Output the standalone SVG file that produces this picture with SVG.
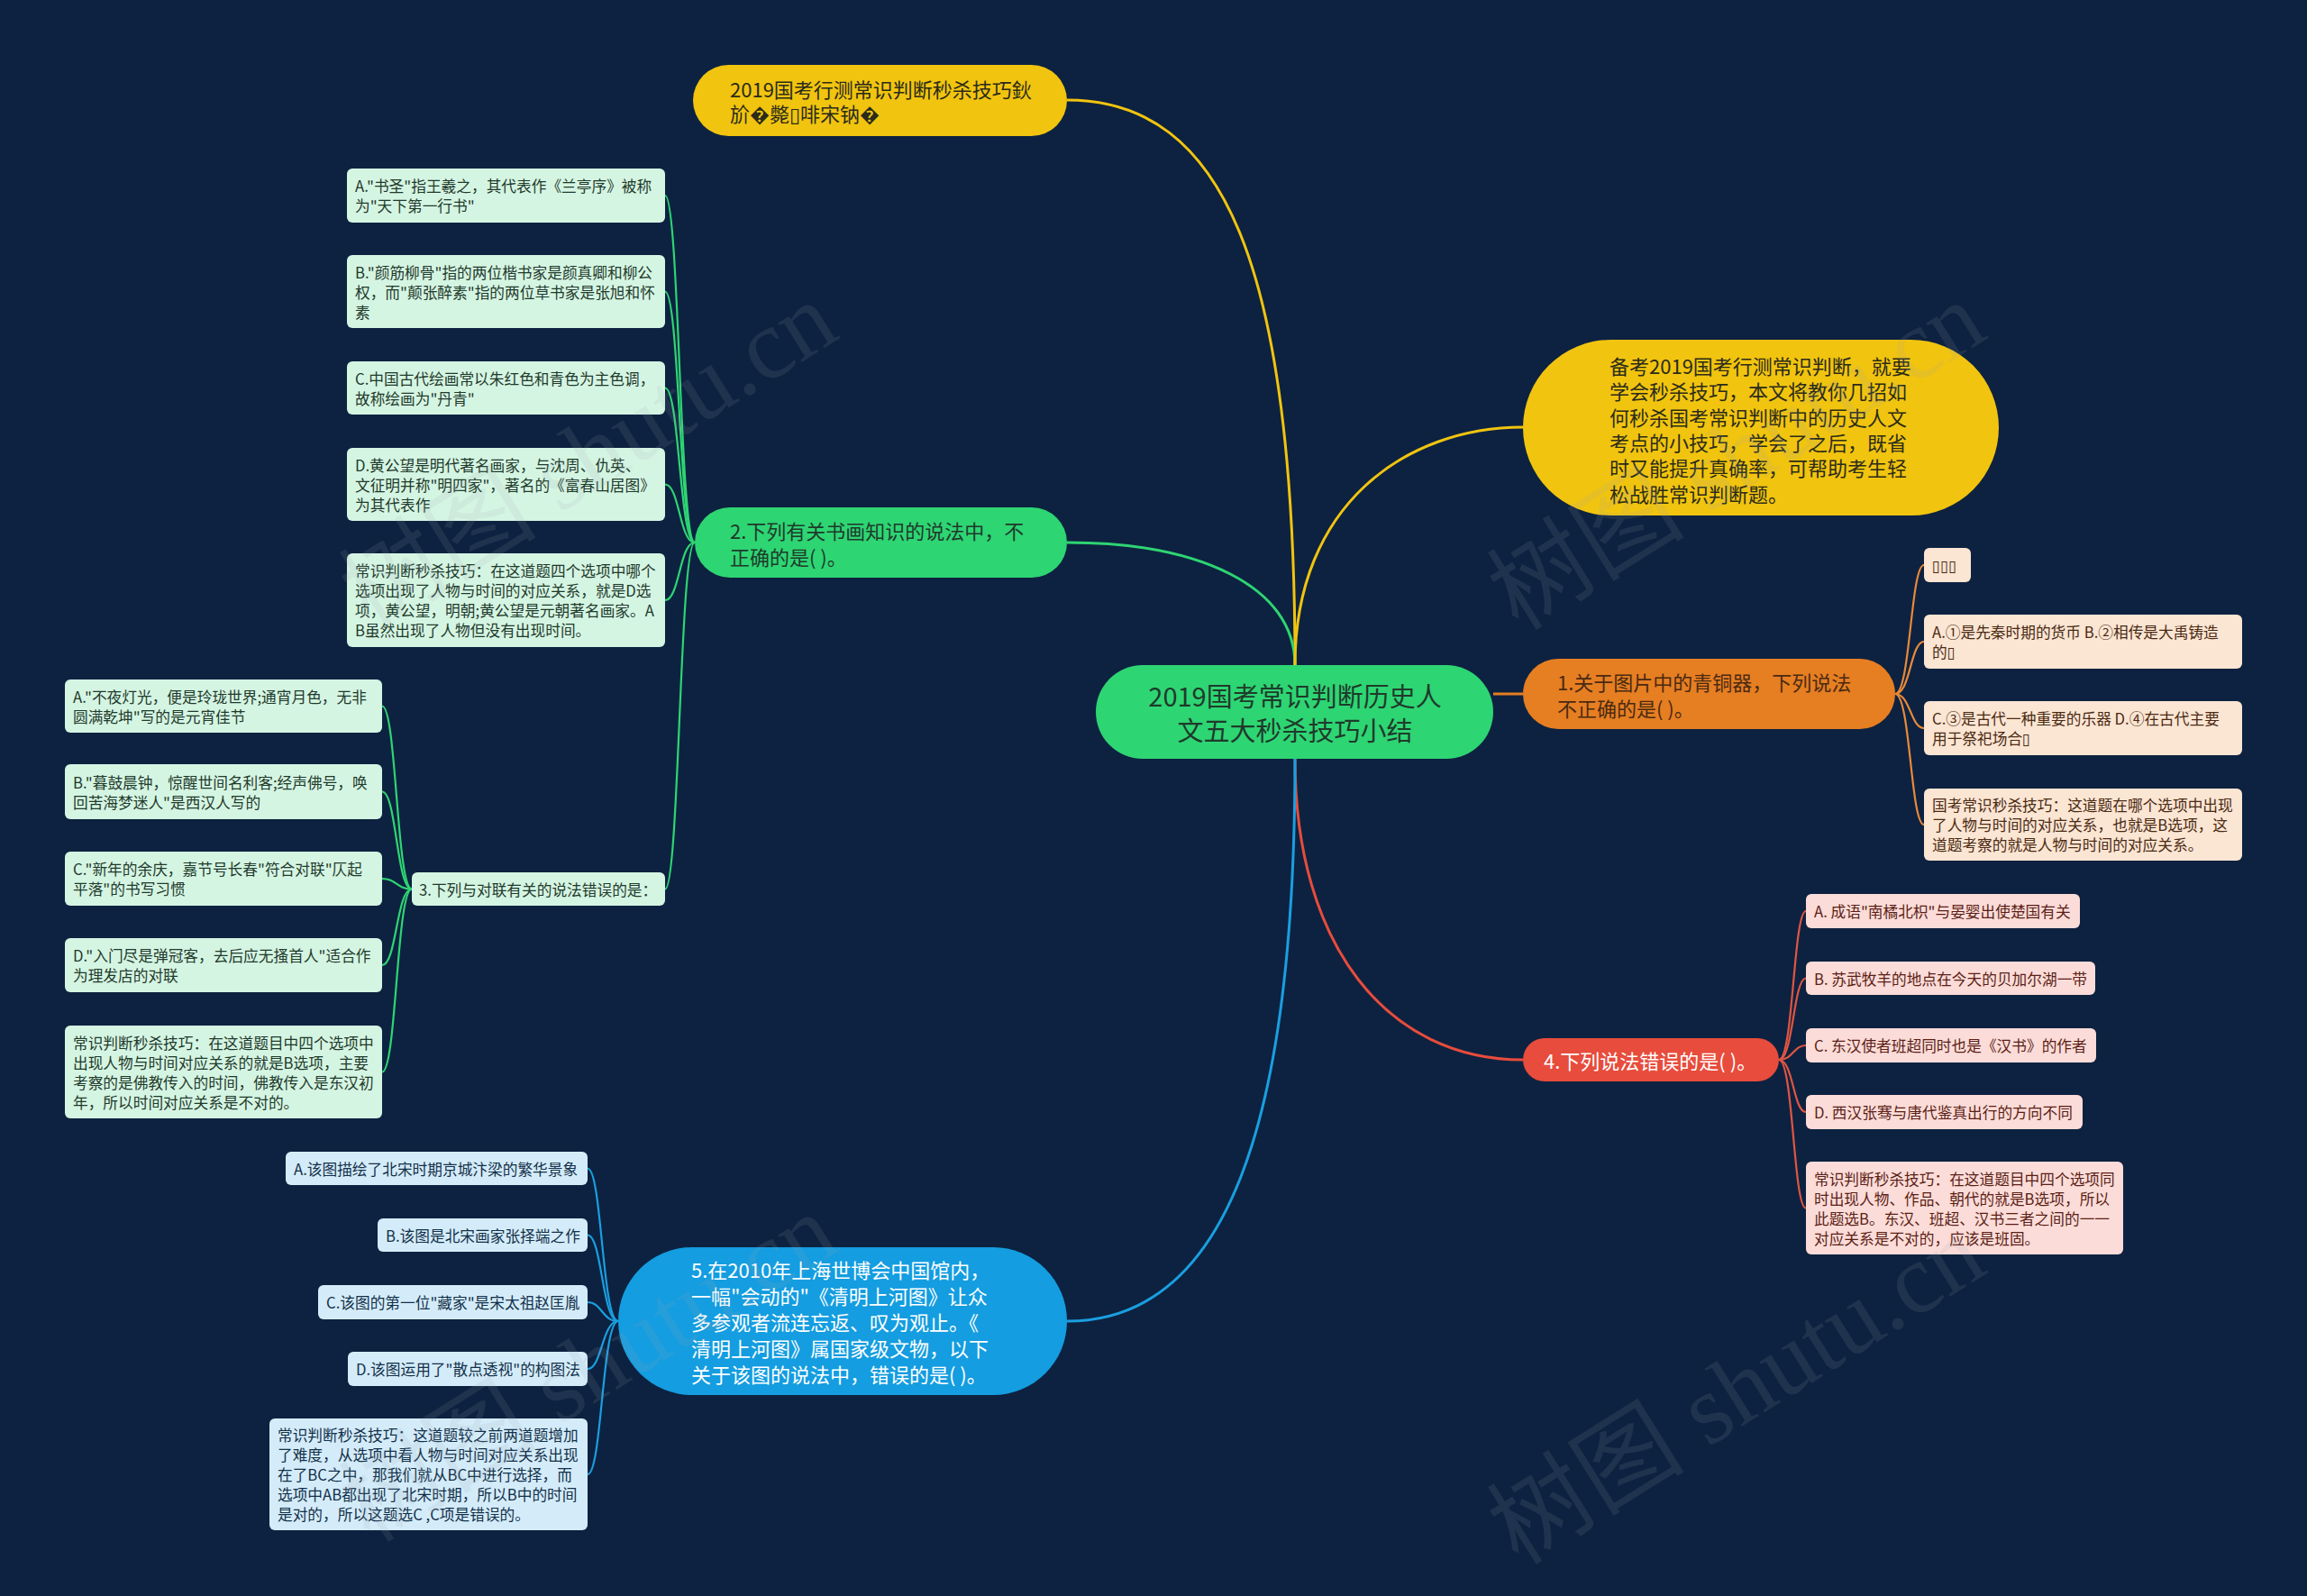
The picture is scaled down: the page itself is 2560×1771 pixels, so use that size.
<svg xmlns="http://www.w3.org/2000/svg" width="2560" height="1771" viewBox="0 0 2560 1771">
<style>
text{font-family:"Noto Sans CJK SC","Noto Sans","DejaVu Sans",sans-serif;dominant-baseline:central}
.main{font-size:22px}
.ch{font-size:16.7px}
.conn path{fill:none}
.cy{stroke:#f1c40f;stroke-width:3}
.cg{stroke:#2ed573;stroke-width:3}
.co{stroke:#e67e22;stroke-width:3}
.cr{stroke:#e74c3c;stroke-width:3}
.cb{stroke:#1a9fe0;stroke-width:3}
.sg{stroke:#2ed573;stroke-width:2.2}
.so{stroke:#e8893a;stroke-width:2.2}
.sr{stroke:#e05543;stroke-width:2.2}
.sb{stroke:#1a9fe0;stroke-width:2.2}
.fy{fill:#f1c40f}.fg{fill:#2ed573}.fo{fill:#e67e22}.fr{fill:#e74c3c}.fb{fill:#149de0}
.bg{fill:#d5f5e3}.bo{fill:#fbe5d3}.br{fill:#fbdcd8}.bb{fill:#d4ecf9}
.tg{fill:#1f3a2b}.to{fill:#4a2a12}.tr{fill:#5b1e16}.tb{fill:#13304a}.td{fill:#2b2b1a}.tw{fill:#ffffff}
.wm{font-family:"Liberation Serif","Noto Sans CJK SC",serif;font-size:110px;fill:#9aa5b0;opacity:0.13}
</style>
<rect x="0" y="0" width="2560" height="1771" fill="#0d2240"/>

<g id="connectors" class="conn">
<path class="cy" d="M1437 738 C1437 300 1360 111 1184 111"/>
<path class="cg" d="M1437 738 C1437 650 1330 602 1184 602"/>
<path class="cy" d="M1437 738 C1437 560 1560 474 1690 474"/>
<path class="co" d="M1657 770 L1690 770"/>
<path class="cr" d="M1437 842 C1437 1050 1540 1176 1690 1176"/>
<path class="cb" d="M1437 842 C1437 1250 1360 1466 1184 1466"/>

<path class="sg" d="M771 602 C754 602 754 217 738 217"/>
<path class="sg" d="M771 602 C754 602 754 323.5 738 323.5"/>
<path class="sg" d="M771 602 C754 602 754 430.5 738 430.5"/>
<path class="sg" d="M771 602 C754 602 754 537.5 738 537.5"/>
<path class="sg" d="M771 602 C754 602 754 666 738 666"/>
<path class="sg" d="M771 602 C754 602 754 986.5 738 986.5"/>

<path class="sg" d="M457 986.5 C440 986.5 440 783.5 424 783.5"/>
<path class="sg" d="M457 986.5 C440 986.5 440 878.5 424 878.5"/>
<path class="sg" d="M457 986.5 C440 986.5 440 975 424 975"/>
<path class="sg" d="M457 986.5 C440 986.5 440 1071 424 1071"/>
<path class="sg" d="M457 986.5 C440 986.5 440 1189.5 424 1189.5"/>

<path class="sb" d="M686 1466 C668 1466 668 1296.5 652 1296.5"/>
<path class="sb" d="M686 1466 C668 1466 668 1370.5 652 1370.5"/>
<path class="sb" d="M686 1466 C668 1466 668 1445 652 1445"/>
<path class="sb" d="M686 1466 C668 1466 668 1519 652 1519"/>
<path class="sb" d="M686 1466 C668 1466 668 1636 652 1636"/>

<path class="so" d="M2103 770 C2120 770 2120 627 2135 627"/>
<path class="so" d="M2103 770 C2120 770 2120 712 2135 712"/>
<path class="so" d="M2103 770 C2120 770 2120 808 2135 808"/>
<path class="so" d="M2103 770 C2120 770 2120 915 2135 915"/>

<path class="sr" d="M1974 1176 C1990 1176 1990 1011 2004 1011"/>
<path class="sr" d="M1974 1176 C1990 1176 1990 1085.5 2004 1085.5"/>
<path class="sr" d="M1974 1176 C1990 1176 1990 1160 2004 1160"/>
<path class="sr" d="M1974 1176 C1990 1176 1990 1234 2004 1234"/>
<path class="sr" d="M1974 1176 C1990 1176 1990 1340.5 2004 1340.5"/>
</g>

<g id="center">
<rect class="fg" x="1216" y="738" width="441" height="104" rx="52"/>
<text class="tg" font-size="29" text-anchor="middle"><tspan x="1437" y="771">2019国考常识判断历史人</tspan><tspan x="1437" y="809">文五大秒杀技巧小结</tspan></text>
</g>

<g id="top-title">
<rect class="fy" x="769" y="72" width="415" height="79" rx="39.5"/>
<text class="main td"><tspan x="810" y="98">2019国考行测常识判断秒杀技巧鈥</tspan><tspan x="810" y="125">斺�斃▯啡宋钠�</tspan></text>
</g>

<g id="intro">
<rect class="fy" x="1690" y="377" width="528" height="195" rx="97.5"/>
<text class="main td"><tspan x="1786" y="405">备考2019国考行测常识判断，就要</tspan><tspan x="1786" y="433">学会秒杀技巧，本文将教你几招如</tspan><tspan x="1786" y="462">何秒杀国考常识判断中的历史人文</tspan><tspan x="1786" y="490">考点的小技巧，学会了之后，既省</tspan><tspan x="1786" y="518">时又能提升真确率，可帮助考生轻</tspan><tspan x="1786" y="547">松战胜常识判断题。</tspan></text>
</g>

<g id="q1">
<rect class="fo" x="1690" y="731" width="413" height="78" rx="39"/>
<text class="main to"><tspan x="1728" y="756">1.关于图片中的青铜器，下列说法</tspan><tspan x="1728" y="785">不正确的是( )。</tspan></text>
</g>
<g id="q1-img">
<rect class="bo" x="2135" y="608" width="52" height="38" rx="6"/>
<text class="ch to" x="2144" y="627">▯▯▯</text>
</g>
<g id="q1-ab">
<rect class="bo" x="2135" y="682" width="353" height="60" rx="6"/>
<text class="ch to"><tspan x="2144" y="701">A.①是先秦时期的货币 B.②相传是大禹铸造</tspan><tspan x="2144" y="723">的▯</tspan></text>
</g>
<g id="q1-cd">
<rect class="bo" x="2135" y="778" width="353" height="60" rx="6"/>
<text class="ch to"><tspan x="2144" y="797">C.③是古代一种重要的乐器 D.④在古代主要</tspan><tspan x="2144" y="819">用于祭祀场合▯</tspan></text>
</g>
<g id="q1-tip">
<rect class="bo" x="2135" y="875" width="353" height="80" rx="6"/>
<text class="ch to"><tspan x="2144" y="893">国考常识秒杀技巧：这道题在哪个选项中出现</tspan><tspan x="2144" y="915">了人物与时间的对应关系，也就是B选项，这</tspan><tspan x="2144" y="937">道题考察的就是人物与时间的对应关系。</tspan></text>
</g>

<g id="q4">
<rect class="fr" x="1690" y="1152" width="284" height="48" rx="24"/>
<text class="main tw" x="1713" y="1176">4.下列说法错误的是( )。</text>
</g>
<g id="q4-a">
<rect class="br" x="2004" y="992" width="304" height="38" rx="6"/>
<text class="ch tr" x="2013" y="1011">A. 成语"南橘北枳"与晏婴出使楚国有关</text>
</g>
<g id="q4-b">
<rect class="br" x="2004" y="1067" width="321" height="37" rx="6"/>
<text class="ch tr" x="2013" y="1085.5">B. 苏武牧羊的地点在今天的贝加尔湖一带</text>
</g>
<g id="q4-c">
<rect class="br" x="2004" y="1141" width="322" height="38" rx="6"/>
<text class="ch tr" x="2013" y="1160">C. 东汉使者班超同时也是《汉书》的作者</text>
</g>
<g id="q4-d">
<rect class="br" x="2004" y="1215" width="307" height="38" rx="6"/>
<text class="ch tr" x="2013" y="1234">D. 西汉张骞与唐代鉴真出行的方向不同</text>
</g>
<g id="q4-tip">
<rect class="br" x="2004" y="1289" width="352" height="103" rx="6"/>
<text class="ch tr"><tspan x="2013" y="1307.5">常识判断秒杀技巧：在这道题目中四个选项同</tspan><tspan x="2013" y="1329.5">时出现人物、作品、朝代的就是B选项，所以</tspan><tspan x="2013" y="1351.5">此题选B。东汉、班超、汉书三者之间的一一</tspan><tspan x="2013" y="1373.5">对应关系是不对的，应该是班固。</tspan></text>
</g>

<g id="q2">
<rect class="fg" x="771" y="563" width="413" height="78" rx="39"/>
<text class="main tg"><tspan x="810" y="588">2.下列有关书画知识的说法中，不</tspan><tspan x="810" y="617">正确的是( )。</tspan></text>
</g>
<g id="q2-a">
<rect class="bg" x="385" y="187" width="353" height="60" rx="6"/>
<text class="ch tg"><tspan x="394" y="206">A."书圣"指王羲之，其代表作《兰亭序》被称</tspan><tspan x="394" y="228">为"天下第一行书"</tspan></text>
</g>
<g id="q2-b">
<rect class="bg" x="385" y="283" width="353" height="81" rx="6"/>
<text class="ch tg"><tspan x="394" y="301.5">B."颜筋柳骨"指的两位楷书家是颜真卿和柳公</tspan><tspan x="394" y="323.5">权，而"颠张醉素"指的两位草书家是张旭和怀</tspan><tspan x="394" y="345.5">素</tspan></text>
</g>
<g id="q2-c">
<rect class="bg" x="385" y="401" width="353" height="59" rx="6"/>
<text class="ch tg"><tspan x="394" y="419.5">C.中国古代绘画常以朱红色和青色为主色调，</tspan><tspan x="394" y="441.5">故称绘画为"丹青"</tspan></text>
</g>
<g id="q2-d">
<rect class="bg" x="385" y="497" width="353" height="81" rx="6"/>
<text class="ch tg"><tspan x="394" y="515.5">D.黄公望是明代著名画家，与沈周、仇英、</tspan><tspan x="394" y="537.5">文征明并称"明四家"，著名的《富春山居图》</tspan><tspan x="394" y="559.5">为其代表作</tspan></text>
</g>
<g id="q2-tip">
<rect class="bg" x="385" y="614" width="353" height="104" rx="6"/>
<text class="ch tg"><tspan x="394" y="633">常识判断秒杀技巧：在这道题四个选项中哪个</tspan><tspan x="394" y="655">选项出现了人物与时间的对应关系，就是D选</tspan><tspan x="394" y="677">项，黄公望，明朝;黄公望是元朝著名画家。A</tspan><tspan x="394" y="699">B虽然出现了人物但没有出现时间。</tspan></text>
</g>

<g id="q3">
<rect class="bg" x="457" y="968" width="281" height="37" rx="6"/>
<text class="ch tg" x="465" y="986.5">3.下列与对联有关的说法错误的是：</text>
</g>
<g id="q3-a">
<rect class="bg" x="72" y="754" width="352" height="59" rx="6"/>
<text class="ch tg"><tspan x="81" y="772.5">A."不夜灯光，便是玲珑世界;通宵月色，无非</tspan><tspan x="81" y="794.5">圆满乾坤"写的是元宵佳节</tspan></text>
</g>
<g id="q3-b">
<rect class="bg" x="72" y="848" width="352" height="61" rx="6"/>
<text class="ch tg"><tspan x="81" y="867.5">B."暮鼓晨钟，惊醒世间名利客;经声佛号，唤</tspan><tspan x="81" y="889.5">回苦海梦迷人"是西汉人写的</tspan></text>
</g>
<g id="q3-c">
<rect class="bg" x="72" y="945" width="352" height="60" rx="6"/>
<text class="ch tg"><tspan x="81" y="964">C."新年的余庆，嘉节号长春"符合对联"仄起</tspan><tspan x="81" y="986">平落"的书写习惯</tspan></text>
</g>
<g id="q3-d">
<rect class="bg" x="72" y="1041" width="352" height="60" rx="6"/>
<text class="ch tg"><tspan x="81" y="1060">D."入门尽是弹冠客，去后应无搔首人"适合作</tspan><tspan x="81" y="1082">为理发店的对联</tspan></text>
</g>
<g id="q3-tip">
<rect class="bg" x="72" y="1138" width="352" height="103" rx="6"/>
<text class="ch tg"><tspan x="81" y="1156.5">常识判断秒杀技巧：在这道题目中四个选项中</tspan><tspan x="81" y="1178.5">出现人物与时间对应关系的就是B选项，主要</tspan><tspan x="81" y="1200.5">考察的是佛教传入的时间，佛教传入是东汉初</tspan><tspan x="81" y="1222.5">年，所以时间对应关系是不对的。</tspan></text>
</g>

<g id="q5">
<rect class="fb" x="686" y="1384" width="498" height="164" rx="82"/>
<text class="main tw"><tspan x="767" y="1408">5.在2010年上海世博会中国馆内，</tspan><tspan x="767" y="1437">一幅"会动的"《清明上河图》让众</tspan><tspan x="767" y="1466">多参观者流连忘返、叹为观止。《</tspan><tspan x="767" y="1495">清明上河图》属国家级文物，以下</tspan><tspan x="767" y="1524">关于该图的说法中，错误的是( )。</tspan></text>
</g>
<g id="q5-a">
<rect class="bb" x="317" y="1278" width="335" height="37" rx="6"/>
<text class="ch tb" x="326" y="1296.5">A.该图描绘了北宋时期京城汴梁的繁华景象</text>
</g>
<g id="q5-b">
<rect class="bb" x="419" y="1352" width="233" height="37" rx="6"/>
<text class="ch tb" x="428" y="1370.5">B.该图是北宋画家张择端之作</text>
</g>
<g id="q5-c">
<rect class="bb" x="353" y="1426" width="299" height="38" rx="6"/>
<text class="ch tb" x="362" y="1445">C.该图的第一位"藏家"是宋太祖赵匡胤</text>
</g>
<g id="q5-d">
<rect class="bb" x="386" y="1500" width="266" height="38" rx="6"/>
<text class="ch tb" x="395" y="1519">D.该图运用了"散点透视"的构图法</text>
</g>
<g id="q5-tip">
<rect class="bb" x="299" y="1574" width="353" height="124" rx="6"/>
<text class="ch tb"><tspan x="308" y="1592">常识判断秒杀技巧：这道题较之前两道题增加</tspan><tspan x="308" y="1614">了难度，从选项中看人物与时间对应关系出现</tspan><tspan x="308" y="1636">在了BC之中，那我们就从BC中进行选择，而</tspan><tspan x="308" y="1658">选项中AB都出现了北宋时期，所以B中的时间</tspan><tspan x="308" y="1680">是对的，所以这题选C ,C项是错误的。</tspan></text>
</g>

<g id="watermarks">
<text class="wm" text-anchor="middle" transform="translate(653 506) rotate(-32)">树图 shutu.cn</text>
<text class="wm" text-anchor="middle" transform="translate(1927 506) rotate(-32)">树图 shutu.cn</text>
<text class="wm" text-anchor="middle" transform="translate(653 1518) rotate(-32)">树图 shutu.cn</text>
<text class="wm" text-anchor="middle" transform="translate(1927 1543) rotate(-32)">树图 shutu.cn</text>
</g>
</svg>
